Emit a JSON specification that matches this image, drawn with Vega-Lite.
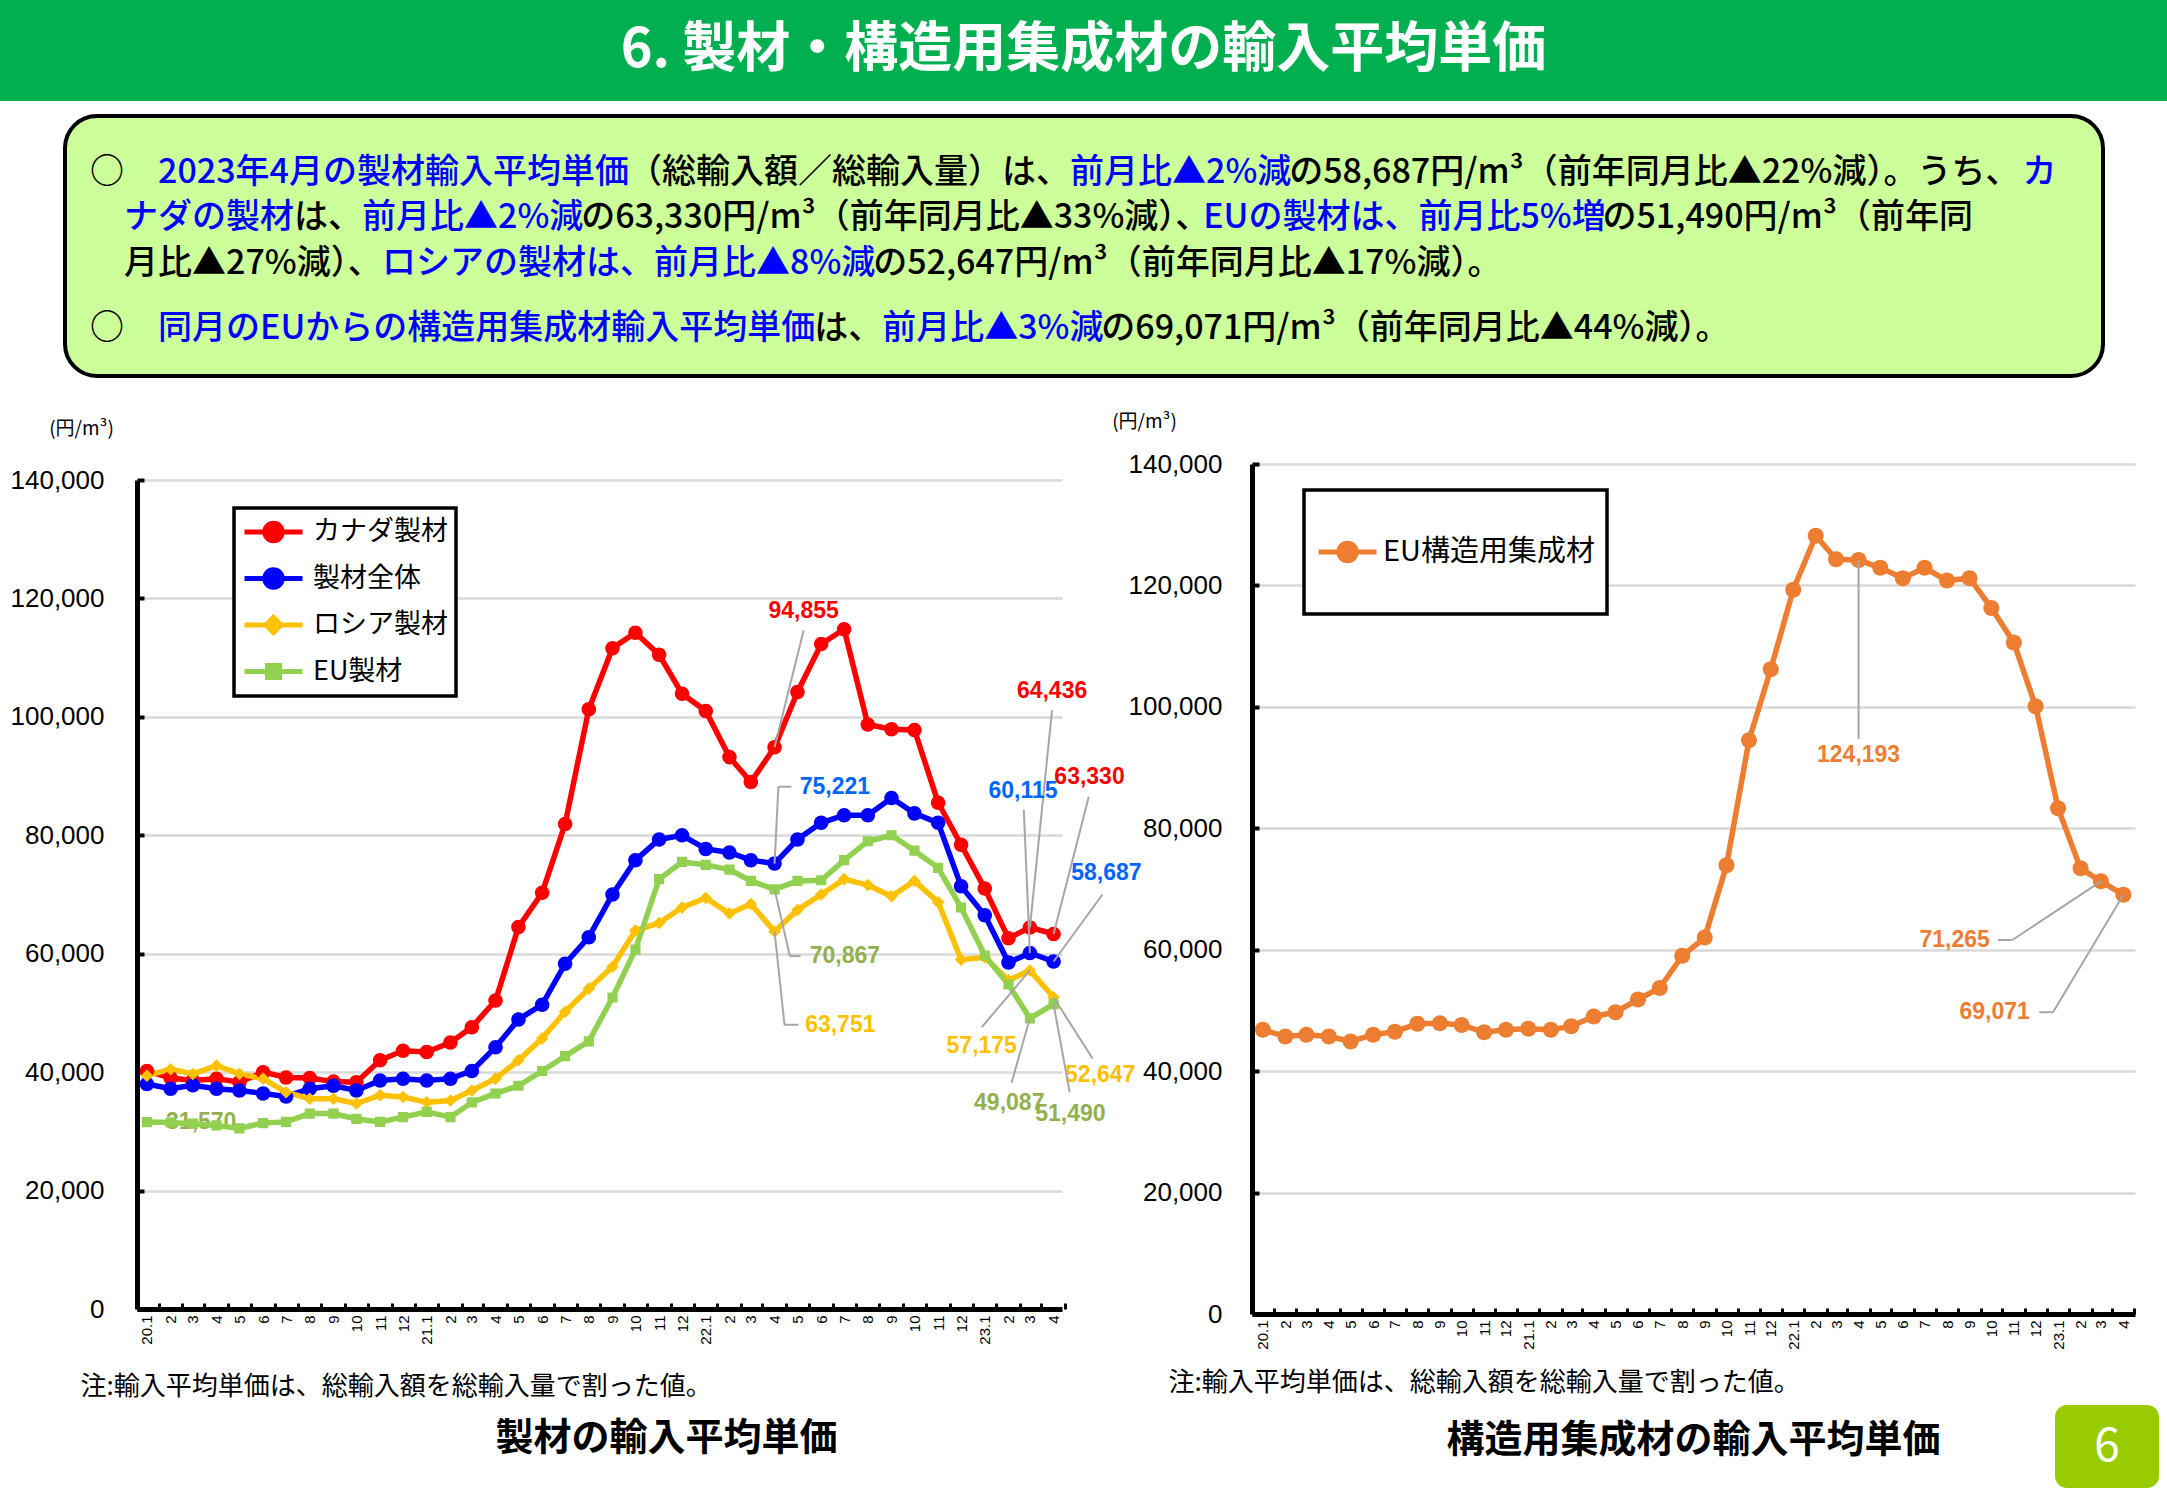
{
  "$schema": "https://vega.github.io/schema/vega-lite/v6.json",
  "padding": 0,
  "background": "white",
  "bounds": "flush",
  "spacing": 0,
  "resolve": {"scale": {"color": "independent", "shape": "independent"}, "legend": {"color": "independent", "shape": "independent"}},
  "config": {"view": {"stroke": null}, "font": "Noto Sans CJK JP"},
  "datasets": {
    "heading": [{"title": "6. 製材・構造用集成材の輸入平均単価"}],
    "pageno": [{"page": "6"}],
    "summary": [
      {"para": 1, "line": 1, "seg": 1, "tone": "plain", "text": "○　"},
      {"para": 1, "line": 1, "seg": 2, "tone": "emph", "text": "2023年4月の製材輸入平均単価"},
      {"para": 1, "line": 1, "seg": 3, "tone": "plain", "text": "（総輸入額／総輸入量）は、"},
      {"para": 1, "line": 1, "seg": 4, "tone": "emph", "text": "前月比▲2%減"},
      {"para": 1, "line": 1, "seg": 5, "tone": "plain", "text": "の58,687円/m³（前年同月比▲22%減）。うち、"},
      {"para": 1, "line": 1, "seg": 6, "tone": "emph", "text": "カ"},
      {"para": 1, "line": 2, "seg": 1, "tone": "emph", "text": "\u200b　ナダの製材"},
      {"para": 1, "line": 2, "seg": 2, "tone": "plain", "text": "は、"},
      {"para": 1, "line": 2, "seg": 3, "tone": "emph", "text": "前月比▲2%減"},
      {"para": 1, "line": 2, "seg": 4, "tone": "plain", "text": "の63,330円/m³（前年同月比▲33%減）、"},
      {"para": 1, "line": 2, "seg": 5, "tone": "emph", "text": "EUの製材は、前月比5%増"},
      {"para": 1, "line": 2, "seg": 6, "tone": "plain", "text": "の51,490円/m³（前年同"},
      {"para": 1, "line": 3, "seg": 1, "tone": "plain", "text": "\u200b　月比▲27%減）、"},
      {"para": 1, "line": 3, "seg": 2, "tone": "emph", "text": "ロシアの製材は、前月比▲8%減"},
      {"para": 1, "line": 3, "seg": 3, "tone": "plain", "text": "の52,647円/m³（前年同月比▲17%減）。"},
      {"para": 2, "line": 4, "seg": 1, "tone": "plain", "text": "○　"},
      {"para": 2, "line": 4, "seg": 2, "tone": "emph", "text": "同月のEUからの構造用集成材輸入平均単価"},
      {"para": 2, "line": 4, "seg": 3, "tone": "plain", "text": "は、"},
      {"para": 2, "line": 4, "seg": 4, "tone": "emph", "text": "前月比▲3%減"},
      {"para": 2, "line": 4, "seg": 5, "tone": "plain", "text": "の69,071円/m³（前年同月比▲44%減）。"}
    ],
    "lumber": [
      {"month":"2020-01","series":"カナダ製材","value":40200},{"month":"2020-02","series":"カナダ製材","value":39000},{"month":"2020-03","series":"カナダ製材","value":38600},{"month":"2020-04","series":"カナダ製材","value":38900},{"month":"2020-05","series":"カナダ製材","value":38300},{"month":"2020-06","series":"カナダ製材","value":40000},{"month":"2020-07","series":"カナダ製材","value":39100},{"month":"2020-08","series":"カナダ製材","value":39000},{"month":"2020-09","series":"カナダ製材","value":38400},{"month":"2020-10","series":"カナダ製材","value":38300},{"month":"2020-11","series":"カナダ製材","value":42000},{"month":"2020-12","series":"カナダ製材","value":43600},
      {"month":"2021-01","series":"カナダ製材","value":43400},{"month":"2021-02","series":"カナダ製材","value":45000},{"month":"2021-03","series":"カナダ製材","value":47600},{"month":"2021-04","series":"カナダ製材","value":52100},{"month":"2021-05","series":"カナダ製材","value":64500},{"month":"2021-06","series":"カナダ製材","value":70300},{"month":"2021-07","series":"カナダ製材","value":81900},{"month":"2021-08","series":"カナダ製材","value":101300},{"month":"2021-09","series":"カナダ製材","value":111600},{"month":"2021-10","series":"カナダ製材","value":114200},{"month":"2021-11","series":"カナダ製材","value":110500},{"month":"2021-12","series":"カナダ製材","value":103900},
      {"month":"2022-01","series":"カナダ製材","value":101000},{"month":"2022-02","series":"カナダ製材","value":93200},{"month":"2022-03","series":"カナダ製材","value":89000},{"month":"2022-04","series":"カナダ製材","value":94855},{"month":"2022-05","series":"カナダ製材","value":104200},{"month":"2022-06","series":"カナダ製材","value":112300},{"month":"2022-07","series":"カナダ製材","value":114800},{"month":"2022-08","series":"カナダ製材","value":98700},{"month":"2022-09","series":"カナダ製材","value":97900},{"month":"2022-10","series":"カナダ製材","value":97800},{"month":"2022-11","series":"カナダ製材","value":85500},{"month":"2022-12","series":"カナダ製材","value":78400},
      {"month":"2023-01","series":"カナダ製材","value":71000},{"month":"2023-02","series":"カナダ製材","value":62600},{"month":"2023-03","series":"カナダ製材","value":64436},{"month":"2023-04","series":"カナダ製材","value":63330},
      {"month":"2020-01","series":"製材全体","value":38000},{"month":"2020-02","series":"製材全体","value":37200},{"month":"2020-03","series":"製材全体","value":37800},{"month":"2020-04","series":"製材全体","value":37200},{"month":"2020-05","series":"製材全体","value":36900},{"month":"2020-06","series":"製材全体","value":36400},{"month":"2020-07","series":"製材全体","value":35900},{"month":"2020-08","series":"製材全体","value":37200},{"month":"2020-09","series":"製材全体","value":37700},{"month":"2020-10","series":"製材全体","value":36900},{"month":"2020-11","series":"製材全体","value":38600},{"month":"2020-12","series":"製材全体","value":38900},
      {"month":"2021-01","series":"製材全体","value":38600},{"month":"2021-02","series":"製材全体","value":38900},{"month":"2021-03","series":"製材全体","value":40200},{"month":"2021-04","series":"製材全体","value":44200},{"month":"2021-05","series":"製材全体","value":48900},{"month":"2021-06","series":"製材全体","value":51400},{"month":"2021-07","series":"製材全体","value":58300},{"month":"2021-08","series":"製材全体","value":62800},{"month":"2021-09","series":"製材全体","value":70000},{"month":"2021-10","series":"製材全体","value":75800},{"month":"2021-11","series":"製材全体","value":79300},{"month":"2021-12","series":"製材全体","value":80000},
      {"month":"2022-01","series":"製材全体","value":77700},{"month":"2022-02","series":"製材全体","value":77100},{"month":"2022-03","series":"製材全体","value":75800},{"month":"2022-04","series":"製材全体","value":75221},{"month":"2022-05","series":"製材全体","value":79300},{"month":"2022-06","series":"製材全体","value":82100},{"month":"2022-07","series":"製材全体","value":83400},{"month":"2022-08","series":"製材全体","value":83400},{"month":"2022-09","series":"製材全体","value":86300},{"month":"2022-10","series":"製材全体","value":83700},{"month":"2022-11","series":"製材全体","value":82100},{"month":"2022-12","series":"製材全体","value":71400},
      {"month":"2023-01","series":"製材全体","value":66500},{"month":"2023-02","series":"製材全体","value":58500},{"month":"2023-03","series":"製材全体","value":60115},{"month":"2023-04","series":"製材全体","value":58687},
      {"month":"2020-01","series":"ロシア製材","value":39400},{"month":"2020-02","series":"ロシア製材","value":40500},{"month":"2020-03","series":"ロシア製材","value":39700},{"month":"2020-04","series":"ロシア製材","value":41100},{"month":"2020-05","series":"ロシア製材","value":39700},{"month":"2020-06","series":"ロシア製材","value":38900},{"month":"2020-07","series":"ロシア製材","value":36600},{"month":"2020-08","series":"ロシア製材","value":35500},{"month":"2020-09","series":"ロシア製材","value":35500},{"month":"2020-10","series":"ロシア製材","value":34700},{"month":"2020-11","series":"ロシア製材","value":36100},{"month":"2020-12","series":"ロシア製材","value":35800},
      {"month":"2021-01","series":"ロシア製材","value":34900},{"month":"2021-02","series":"ロシア製材","value":35200},{"month":"2021-03","series":"ロシア製材","value":36900},{"month":"2021-04","series":"ロシア製材","value":38900},{"month":"2021-05","series":"ロシア製材","value":42000},{"month":"2021-06","series":"ロシア製材","value":45700},{"month":"2021-07","series":"ロシア製材","value":50200},{"month":"2021-08","series":"ロシア製材","value":54100},{"month":"2021-09","series":"ロシア製材","value":57800},{"month":"2021-10","series":"ロシア製材","value":63900},{"month":"2021-11","series":"ロシア製材","value":65200},{"month":"2021-12","series":"ロシア製材","value":67800},
      {"month":"2022-01","series":"ロシア製材","value":69400},{"month":"2022-02","series":"ロシア製材","value":66800},{"month":"2022-03","series":"ロシア製材","value":68400},{"month":"2022-04","series":"ロシア製材","value":63751},{"month":"2022-05","series":"ロシア製材","value":67400},{"month":"2022-06","series":"ロシア製材","value":70000},{"month":"2022-07","series":"ロシア製材","value":72600},{"month":"2022-08","series":"ロシア製材","value":71600},{"month":"2022-09","series":"ロシア製材","value":69700},{"month":"2022-10","series":"ロシア製材","value":72300},{"month":"2022-11","series":"ロシア製材","value":68700},{"month":"2022-12","series":"ロシア製材","value":59000},
      {"month":"2023-01","series":"ロシア製材","value":59400},{"month":"2023-02","series":"ロシア製材","value":55500},{"month":"2023-03","series":"ロシア製材","value":57175},{"month":"2023-04","series":"ロシア製材","value":52647},
      {"month":"2020-01","series":"EU製材","value":31570},{"month":"2020-02","series":"EU製材","value":31500},{"month":"2020-03","series":"EU製材","value":31300},{"month":"2020-04","series":"EU製材","value":31000},{"month":"2020-05","series":"EU製材","value":30500},{"month":"2020-06","series":"EU製材","value":31400},{"month":"2020-07","series":"EU製材","value":31600},{"month":"2020-08","series":"EU製材","value":33000},{"month":"2020-09","series":"EU製材","value":33000},{"month":"2020-10","series":"EU製材","value":32100},{"month":"2020-11","series":"EU製材","value":31600},{"month":"2020-12","series":"EU製材","value":32400},
      {"month":"2021-01","series":"EU製材","value":33300},{"month":"2021-02","series":"EU製材","value":32400},{"month":"2021-03","series":"EU製材","value":34900},{"month":"2021-04","series":"EU製材","value":36400},{"month":"2021-05","series":"EU製材","value":37700},{"month":"2021-06","series":"EU製材","value":40200},{"month":"2021-07","series":"EU製材","value":42700},{"month":"2021-08","series":"EU製材","value":45200},{"month":"2021-09","series":"EU製材","value":52600},{"month":"2021-10","series":"EU製材","value":60700},{"month":"2021-11","series":"EU製材","value":72600},{"month":"2021-12","series":"EU製材","value":75500},
      {"month":"2022-01","series":"EU製材","value":75000},{"month":"2022-02","series":"EU製材","value":74200},{"month":"2022-03","series":"EU製材","value":72300},{"month":"2022-04","series":"EU製材","value":70867},{"month":"2022-05","series":"EU製材","value":72300},{"month":"2022-06","series":"EU製材","value":72400},{"month":"2022-07","series":"EU製材","value":75800},{"month":"2022-08","series":"EU製材","value":79000},{"month":"2022-09","series":"EU製材","value":80000},{"month":"2022-10","series":"EU製材","value":77400},{"month":"2022-11","series":"EU製材","value":74500},{"month":"2022-12","series":"EU製材","value":67800},
      {"month":"2023-01","series":"EU製材","value":59700},{"month":"2023-02","series":"EU製材","value":54800},{"month":"2023-03","series":"EU製材","value":49087},{"month":"2023-04","series":"EU製材","value":51490}
    ],
    "glulam": [
      {"month":"2020-01","series":"EU構造用集成材","value":46800},{"month":"2020-02","series":"EU構造用集成材","value":45700},{"month":"2020-03","series":"EU構造用集成材","value":46000},{"month":"2020-04","series":"EU構造用集成材","value":45700},{"month":"2020-05","series":"EU構造用集成材","value":44900},{"month":"2020-06","series":"EU構造用集成材","value":46000},{"month":"2020-07","series":"EU構造用集成材","value":46500},{"month":"2020-08","series":"EU構造用集成材","value":47800},{"month":"2020-09","series":"EU構造用集成材","value":47900},{"month":"2020-10","series":"EU構造用集成材","value":47600},{"month":"2020-11","series":"EU構造用集成材","value":46400},{"month":"2020-12","series":"EU構造用集成材","value":46800},
      {"month":"2021-01","series":"EU構造用集成材","value":47000},{"month":"2021-02","series":"EU構造用集成材","value":46800},{"month":"2021-03","series":"EU構造用集成材","value":47400},{"month":"2021-04","series":"EU構造用集成材","value":49000},{"month":"2021-05","series":"EU構造用集成材","value":49700},{"month":"2021-06","series":"EU構造用集成材","value":51800},{"month":"2021-07","series":"EU構造用集成材","value":53700},{"month":"2021-08","series":"EU構造用集成材","value":59000},{"month":"2021-09","series":"EU構造用集成材","value":62000},{"month":"2021-10","series":"EU構造用集成材","value":73900},{"month":"2021-11","series":"EU構造用集成材","value":94500},{"month":"2021-12","series":"EU構造用集成材","value":106200},
      {"month":"2022-01","series":"EU構造用集成材","value":119300},{"month":"2022-02","series":"EU構造用集成材","value":128200},{"month":"2022-03","series":"EU構造用集成材","value":124300},{"month":"2022-04","series":"EU構造用集成材","value":124193},{"month":"2022-05","series":"EU構造用集成材","value":122900},{"month":"2022-06","series":"EU構造用集成材","value":121200},{"month":"2022-07","series":"EU構造用集成材","value":122900},{"month":"2022-08","series":"EU構造用集成材","value":120800},{"month":"2022-09","series":"EU構造用集成材","value":121200},{"month":"2022-10","series":"EU構造用集成材","value":116300},{"month":"2022-11","series":"EU構造用集成材","value":110600},{"month":"2022-12","series":"EU構造用集成材","value":100100},
      {"month":"2023-01","series":"EU構造用集成材","value":83300},{"month":"2023-02","series":"EU構造用集成材","value":73400},{"month":"2023-03","series":"EU構造用集成材","value":71265},{"month":"2023-04","series":"EU構造用集成材","value":69071}
    ]
  },
  "vconcat": [
    {
      "width": 2167, "height": 101,
      "view": {"fill": "#00b050", "stroke": null},
      "data": {"name": "heading"},
      "mark": {"type": "text", "color": "white", "fontSize": 54, "fontWeight": "bold", "font": "Noto Sans CJK JP"},
      "encoding": {"text": {"field": "title"}}
    },
    {"width": 1, "height": 15, "data": {"values": [{}]}, "mark": {"type": "point", "size": 0, "opacity": 0}},
    {
      "bounds": "flush", "spacing": 20,
      "hconcat": [
        {"width": 45, "height": 1, "data": {"values": [{}]}, "mark": {"type": "point", "size": 0, "opacity": 0}},
        {
          "width": 2038, "height": 260,
          "view": {"fill": "#ccff99", "stroke": "#000000", "strokeWidth": 4, "cornerRadius": 32},
          "data": {"name": "summary"},
          "transform": [
            {"calculate": "length(datum.text) - 0.435*length(replace(datum.text, regexp('[^0-9]', 'g'), '')) - 0.73*length(replace(datum.text, regexp('[^,]', 'g'), '')) - 0.12*length(replace(datum.text, regexp('[^%]', 'g'), '')) - 0.63*length(replace(datum.text, regexp('[^/]', 'g'), '')) - 0.16*length(replace(datum.text, regexp('[^m]', 'g'), '')) - 0.6*length(replace(datum.text, regexp('[^³]', 'g'), '')) - 0.4*length(replace(datum.text, regexp('[^E]', 'g'), '')) - 0.3*length(replace(datum.text, regexp('[^U]', 'g'), '')) - length(replace(datum.text, regexp('[^\u200b]', 'g'), '')) - 0.42*(length(split(datum.text, '）、')) - 1) - 0.15*(length(split(datum.text, '）。')) - 1)", "as": "w"},
            {"window": [{"op": "sum", "field": "w", "as": "cum"}], "groupby": ["line"], "sort": [{"field": "seg", "order": "ascending"}], "frame": [null, 0]},
            {"calculate": "datum.cum - datum.w", "as": "start"}
          ],
          "encoding": {
            "x": {"field": "start", "type": "quantitative", "scale": {"domain": [0, 59.941]}, "axis": null},
            "y": {"field": "line", "type": "quantitative", "scale": {"domain": [-0.2527, 5.4615], "reverse": true}, "axis": null},
            "text": {"field": "text"},
            "color": {"condition": {"test": "datum.tone === 'emph'", "value": "#0000ff"}, "value": "#000000"}
          },
          "layer": [
            {"transform": [{"filter": "datum.para === 1"}], "mark": {"type": "text", "align": "left", "baseline": "middle", "dx": 25, "fontSize": 34, "font": "Noto Sans CJK JP", "fontWeight": 500}},
            {"transform": [{"filter": "datum.para === 2"}], "mark": {"type": "text", "align": "left", "baseline": "middle", "dx": 25, "dy": 19.5, "fontSize": 34, "font": "Noto Sans CJK JP", "fontWeight": 500}}
          ]
        }
      ]
    },
    {"width": 1, "height": 348, "data": {"values": [{}]}, "mark": {"type": "point", "size": 0, "opacity": 0}},
    {
      "bounds": "flush", "spacing": 20,
      "resolve": {"scale": {"color": "independent", "shape": "independent"}, "legend": {"color": "independent", "shape": "independent"}},
      "hconcat": [
        {"width": 1232, "height": 1, "data": {"values": [{}]}, "mark": {"type": "point", "size": 0, "opacity": 0}},
        {
          "width": 883, "height": 850,
          "data": {"name": "glulam"},
          "title": {"text": "構造用集成材の輸入平均単価", "orient": "bottom", "frame": "group", "anchor": "middle", "offset": 27, "fontSize": 38, "fontWeight": "bold", "font": "Noto Sans CJK JP", "color": "black"},
          "encoding": {
            "x": {"field": "month", "type": "temporal",
              "scale": {"type": "utc", "domain": [{"year": 2019, "month": 12, "date": 17, "utc": true}, {"year": 2023, "month": 4, "date": 17, "utc": true}]},
              "axis": {"title": "注:輸入平均単価は、総輸入額を総輸入量で割った値。", "titleX": -84, "titleY": 68, "titleAlign": "left", "titleBaseline": "middle", "titleAngle": 0, "titleFont": "Noto Sans CJK JP", "titleFontSize": 26, "titleFontWeight": "normal", "titleColor": "black",
                "tickCount": {"interval": "month", "step": 1},
                "labelExpr": "utcFormat(datum.value, '%m') === '01' ? utcFormat(datum.value, '%y') + '.1' : utcFormat(datum.value, '%-m')",
                "labelAngle": 270, "labelAlign": "right", "labelBaseline": "middle", "labelFont": "Liberation Sans", "labelFontSize": 15, "labelColor": "black", "labelPadding": 12, "labelOverlap": false, "labelFlush": false,
                "tickSize": -6, "tickWidth": 3, "tickColor": "black", "tickOffset": 11, "labelOffset": -11,
                "domainColor": "black", "domainWidth": 5, "grid": false}},
            "y": {"field": "value", "type": "quantitative", "scale": {"domain": [0, 140000]},
              "axis": {"title": "(円/m³)", "titleAngle": 0, "titleX": -108, "titleY": -43, "titleAlign": "center", "titleBaseline": "middle", "titleFont": "Noto Sans CJK JP", "titleFontSize": 19, "titleFontWeight": "normal", "titleColor": "black",
                "values": [0, 20000, 40000, 60000, 80000, 100000, 120000, 140000], "format": ",.0f",
                "labelFont": "Liberation Sans", "labelFontSize": 26, "labelColor": "black", "labelPadding": 37,
                "domainColor": "black", "domainWidth": 5, "tickColor": "black", "tickWidth": 4, "tickSize": -7,
                "grid": true, "gridColor": "#d9d9d9", "gridWidth": 2.5}}
          },
          "layer": [
            {"mark": {"type": "line", "strokeWidth": 5.5, "color": "#ed7d31"}},
            {"mark": {"type": "point", "filled": true, "opacity": 1, "size": 2844, "strokeWidth": 0},
             "encoding": {
               "color": {"field": "series", "type": "nominal", "scale": {"domain": ["EU構造用集成材"], "range": ["#ed7d31"]},
                 "legend": {"title": null, "orient": "none", "legendX": 52, "legendY": 26, "fillColor": "white", "strokeColor": "black", "padding": 12, "labelFont": "Noto Sans CJK JP", "labelFontSize": 29, "labelColor": "black", "labelOffset": 4, "labelLimit": 0, "symbolSize": 3364, "symbolOpacity": 1, "clipHeight": 100,
                   "encode": {"symbols": {"update": {"stroke": {"value": "#ed7d31"}, "strokeWidth": {"value": 5}}}, "legend": {"update": {"strokeWidth": {"value": 3.5}}}}}},
               "shape": {"field": "series", "type": "nominal", "scale": {"domain": ["EU構造用集成材"], "range": ["M-1,0H1M-0.3,0A0.3,0.3,0,1,1,0.3,0A0.3,0.3,0,1,1,-0.3,0Z"]},
                 "legend": {"title": null, "orient": "none", "legendX": 52, "legendY": 26, "fillColor": "white", "strokeColor": "black", "padding": 12, "labelFont": "Noto Sans CJK JP", "labelFontSize": 29, "labelColor": "black", "labelOffset": 4, "labelLimit": 0, "symbolSize": 3364, "symbolOpacity": 1, "clipHeight": 100,
                   "encode": {"symbols": {"update": {"stroke": {"value": "#ed7d31"}, "strokeWidth": {"value": 5}}}, "legend": {"update": {"strokeWidth": {"value": 3.5}}}}}}
             }},
            {"transform": [{"filter": "datum.value === 124193"}], "layer": [
              {"mark": {"type": "rule", "color": "#a6a6a6", "strokeWidth": 2}, "encoding": {"x2": {"datum": {"year": 2022, "month": 4, "date": 1, "utc": true}}, "y2": {"datum": 94700}}},
              {"mark": {"type": "text", "font": "Liberation Sans", "fontWeight": "bold", "fontSize": 23, "color": "#ed7d31", "align": "center", "baseline": "middle"},
               "encoding": {"x": {"datum": {"year": 2022, "month": 4, "date": 1, "utc": true}, "type": "temporal"}, "y": {"datum": 92100, "type": "quantitative"}, "text": {"field": "value", "type": "quantitative", "format": ","}}}
            ]},
            {"transform": [{"filter": "datum.value === 71265"}], "layer": [
              {"mark": {"type": "rule", "color": "#a6a6a6", "strokeWidth": 2}, "encoding": {"x2": {"datum": {"year": 2022, "month": 10, "date": 30, "utc": true}}, "y2": {"datum": 61600}}},
              {"mark": {"type": "rule", "color": "#a6a6a6", "strokeWidth": 2}, "encoding": {"x": {"datum": {"year": 2022, "month": 10, "date": 10, "utc": true}, "type": "temporal"}, "x2": {"datum": {"year": 2022, "month": 10, "date": 30, "utc": true}}, "y": {"datum": 61600, "type": "quantitative"}}},
              {"mark": {"type": "text", "font": "Liberation Sans", "fontWeight": "bold", "fontSize": 23, "color": "#ed7d31", "align": "right", "baseline": "middle"},
               "encoding": {"x": {"datum": {"year": 2022, "month": 9, "date": 29, "utc": true}, "type": "temporal"}, "y": {"datum": 61600, "type": "quantitative"}, "text": {"field": "value", "type": "quantitative", "format": ","}}}
            ]},
            {"transform": [{"filter": "datum.value === 69071"}], "layer": [
              {"mark": {"type": "rule", "color": "#a6a6a6", "strokeWidth": 2}, "encoding": {"x2": {"datum": {"year": 2022, "month": 12, "date": 25, "utc": true}}, "y2": {"datum": 49700}}},
              {"mark": {"type": "rule", "color": "#a6a6a6", "strokeWidth": 2}, "encoding": {"x": {"datum": {"year": 2022, "month": 12, "date": 6, "utc": true}, "type": "temporal"}, "x2": {"datum": {"year": 2022, "month": 12, "date": 25, "utc": true}}, "y": {"datum": 49700, "type": "quantitative"}}},
              {"mark": {"type": "text", "font": "Liberation Sans", "fontWeight": "bold", "fontSize": 23, "color": "#ed7d31", "align": "right", "baseline": "middle"},
               "encoding": {"x": {"datum": {"year": 2022, "month": 11, "date": 23, "utc": true}, "type": "temporal"}, "y": {"datum": 49700, "type": "quantitative"}, "text": {"field": "value", "type": "quantitative", "format": ","}}}
            ]}
          ]
        }
      ]
    },
    {"width": 1, "height": 16, "data": {"values": [{}]}, "mark": {"type": "point", "size": 0, "opacity": 0}},
    {
      "bounds": "flush", "spacing": 20,
      "resolve": {"scale": {"color": "independent", "shape": "independent"}, "legend": {"color": "independent", "shape": "independent"}},
      "hconcat": [
        {"width": 117, "height": 1, "data": {"values": [{}]}, "mark": {"type": "point", "size": 0, "opacity": 0}},
        {
          "width": 925, "height": 829,
          "data": {"name": "lumber"},
          "title": {"text": "製材の輸入平均単価", "orient": "bottom", "frame": "group", "anchor": "middle", "dx": 67, "offset": 21, "fontSize": 38, "fontWeight": "bold", "font": "Noto Sans CJK JP", "color": "black"},
          "encoding": {
            "x": {"field": "month", "type": "temporal",
              "scale": {"type": "utc", "domain": [{"year": 2019, "month": 12, "date": 19, "utc": true}, {"year": 2023, "month": 4, "date": 12, "utc": true}]},
              "axis": {"title": "注:輸入平均単価は、総輸入額を総輸入量で割った値。", "titleX": -57, "titleY": 77, "titleAlign": "left", "titleBaseline": "middle", "titleAngle": 0, "titleFont": "Noto Sans CJK JP", "titleFontSize": 26, "titleFontWeight": "normal", "titleColor": "black",
                "tickCount": {"interval": "month", "step": 1},
                "labelExpr": "utcFormat(datum.value, '%m') === '01' ? utcFormat(datum.value, '%y') + '.1' : utcFormat(datum.value, '%-m')",
                "labelAngle": 270, "labelAlign": "right", "labelBaseline": "middle", "labelFont": "Liberation Sans", "labelFontSize": 15, "labelColor": "black", "labelPadding": 12, "labelOverlap": false, "labelFlush": false,
                "tickSize": -6, "tickWidth": 3, "tickColor": "black", "tickOffset": 11.6, "labelOffset": -11.6,
                "domainColor": "black", "domainWidth": 5, "grid": false}},
            "y": {"field": "value", "type": "quantitative", "scale": {"domain": [0, 140000]},
              "axis": {"title": "(円/m³)", "titleAngle": 0, "titleX": -56, "titleY": -52, "titleAlign": "center", "titleBaseline": "middle", "titleFont": "Noto Sans CJK JP", "titleFontSize": 19, "titleFontWeight": "normal", "titleColor": "black",
                "values": [0, 20000, 40000, 60000, 80000, 100000, 120000, 140000], "format": ",.0f",
                "labelFont": "Liberation Sans", "labelFontSize": 26, "labelColor": "black", "labelPadding": 40,
                "domainColor": "black", "domainWidth": 5, "tickColor": "black", "tickWidth": 4, "tickSize": -7,
                "grid": true, "gridColor": "#d9d9d9", "gridWidth": 2.5}}
          },
          "layer": [
            {"transform": [{"filter": "datum.value === 31570"}],
             "mark": {"type": "text", "font": "Liberation Sans", "fontWeight": "bold", "fontSize": 23, "color": "#92b04e", "align": "center", "baseline": "middle"},
             "encoding": {"x": {"datum": {"year": 2020, "month": 3, "date": 12, "utc": true}, "type": "temporal"}, "y": {"datum": 31580, "type": "quantitative"}, "text": {"field": "value", "type": "quantitative", "format": ","}}},
            {"mark": {"type": "line", "strokeWidth": 5.5},
             "encoding": {"stroke": {"field": "series", "type": "nominal", "scale": {"domain": ["カナダ製材", "製材全体", "ロシア製材", "EU製材"], "range": ["#ff0000", "#0000ff", "#ffc000", "#92d050"]}, "legend": null}}},
            {"mark": {"type": "point", "filled": true, "opacity": 1, "size": 2340, "strokeWidth": 0},
             "encoding": {
               "color": {"field": "series", "type": "nominal", "scale": {"domain": ["カナダ製材", "製材全体", "ロシア製材", "EU製材"], "range": ["#ff0000", "#0000ff", "#ffc000", "#92d050"]},
                 "legend": {"title": null, "orient": "none", "legendX": 97, "legendY": 28, "fillColor": "white", "strokeColor": "black", "padding": 8, "labelFont": "Noto Sans CJK JP", "labelFontSize": 27, "labelColor": "black", "labelOffset": 8, "labelLimit": 0, "symbolSize": 3364, "symbolOpacity": 1, "clipHeight": 32, "rowPadding": 14.5,
                   "encode": {"symbols": {"update": {"stroke": {"signal": "datum.value === 'カナダ製材' ? '#ff0000' : datum.value === '製材全体' ? '#0000ff' : datum.value === 'ロシア製材' ? '#ffc000' : '#92d050'"}, "strokeWidth": {"value": 5}}}, "legend": {"update": {"strokeWidth": {"value": 3.5}}}}}},
               "shape": {"field": "series", "type": "nominal", "scale": {"domain": ["カナダ製材", "製材全体", "ロシア製材", "EU製材"], "range": ["M-1,0H1M-0.3,0A0.3,0.3,0,1,1,0.3,0A0.3,0.3,0,1,1,-0.3,0Z", "M-1,0H1M-0.3,0A0.3,0.3,0,1,1,0.3,0A0.3,0.3,0,1,1,-0.3,0Z", "M-1,0H1M0,-0.26L0.26,0L0,0.26L-0.26,0Z", "M-1,0H1M-0.21,-0.21H0.21V0.21H-0.21Z"]},
                 "legend": {"title": null, "orient": "none", "legendX": 97, "legendY": 28, "fillColor": "white", "strokeColor": "black", "padding": 8, "labelFont": "Noto Sans CJK JP", "labelFontSize": 27, "labelColor": "black", "labelOffset": 8, "labelLimit": 0, "symbolSize": 3364, "symbolOpacity": 1, "clipHeight": 32, "rowPadding": 14.5,
                   "encode": {"symbols": {"update": {"stroke": {"signal": "datum.value === 'カナダ製材' ? '#ff0000' : datum.value === '製材全体' ? '#0000ff' : datum.value === 'ロシア製材' ? '#ffc000' : '#92d050'"}, "strokeWidth": {"value": 5}}}, "legend": {"update": {"strokeWidth": {"value": 3.5}}}}}}
             }},
            {"transform": [{"filter": "datum.value === 94855"}], "layer": [
              {"mark": {"type": "rule", "color": "#a6a6a6", "strokeWidth": 2}, "encoding": {"x2": {"datum": {"year": 2022, "month": 5, "date": 9, "utc": true}}, "y2": {"datum": 114600}}},
              {"mark": {"type": "text", "font": "Liberation Sans", "fontWeight": "bold", "fontSize": 23, "color": "#ff0000", "align": "center", "baseline": "middle"},
               "encoding": {"x": {"datum": {"year": 2022, "month": 5, "date": 9, "utc": true}, "type": "temporal"}, "y": {"datum": 117900, "type": "quantitative"}, "text": {"field": "value", "type": "quantitative", "format": ","}}}
            ]},
            {"transform": [{"filter": "datum.value === 75221"}], "layer": [
              {"mark": {"type": "rule", "color": "#a6a6a6", "strokeWidth": 2}, "encoding": {"x2": {"datum": {"year": 2022, "month": 4, "date": 6, "utc": true}}, "y2": {"datum": 88200}}},
              {"mark": {"type": "rule", "color": "#a6a6a6", "strokeWidth": 2}, "encoding": {"x": {"datum": {"year": 2022, "month": 4, "date": 6, "utc": true}, "type": "temporal"}, "x2": {"datum": {"year": 2022, "month": 4, "date": 23, "utc": true}}, "y": {"datum": 88200, "type": "quantitative"}}},
              {"mark": {"type": "text", "font": "Liberation Sans", "fontWeight": "bold", "fontSize": 23, "color": "#0066ff", "align": "left", "baseline": "middle"},
               "encoding": {"x": {"datum": {"year": 2022, "month": 5, "date": 4, "utc": true}, "type": "temporal"}, "y": {"datum": 88200, "type": "quantitative"}, "text": {"field": "value", "type": "quantitative", "format": ","}}}
            ]},
            {"transform": [{"filter": "datum.value === 70867"}], "layer": [
              {"mark": {"type": "rule", "color": "#a6a6a6", "strokeWidth": 2}, "encoding": {"x2": {"datum": {"year": 2022, "month": 4, "date": 21, "utc": true}}, "y2": {"datum": 59600}}},
              {"mark": {"type": "rule", "color": "#a6a6a6", "strokeWidth": 2}, "encoding": {"x": {"datum": {"year": 2022, "month": 4, "date": 21, "utc": true}, "type": "temporal"}, "x2": {"datum": {"year": 2022, "month": 5, "date": 5, "utc": true}}, "y": {"datum": 59600, "type": "quantitative"}}},
              {"mark": {"type": "text", "font": "Liberation Sans", "fontWeight": "bold", "fontSize": 23, "color": "#92b04e", "align": "left", "baseline": "middle"},
               "encoding": {"x": {"datum": {"year": 2022, "month": 5, "date": 17, "utc": true}, "type": "temporal"}, "y": {"datum": 59600, "type": "quantitative"}, "text": {"field": "value", "type": "quantitative", "format": ","}}}
            ]},
            {"transform": [{"filter": "datum.value === 63751"}], "layer": [
              {"mark": {"type": "rule", "color": "#a6a6a6", "strokeWidth": 2}, "encoding": {"x2": {"datum": {"year": 2022, "month": 4, "date": 14, "utc": true}}, "y2": {"datum": 48000}}},
              {"mark": {"type": "rule", "color": "#a6a6a6", "strokeWidth": 2}, "encoding": {"x": {"datum": {"year": 2022, "month": 4, "date": 14, "utc": true}, "type": "temporal"}, "x2": {"datum": {"year": 2022, "month": 5, "date": 2, "utc": true}}, "y": {"datum": 48000, "type": "quantitative"}}},
              {"mark": {"type": "text", "font": "Liberation Sans", "fontWeight": "bold", "fontSize": 23, "color": "#ffc000", "align": "left", "baseline": "middle"},
               "encoding": {"x": {"datum": {"year": 2022, "month": 5, "date": 11, "utc": true}, "type": "temporal"}, "y": {"datum": 48000, "type": "quantitative"}, "text": {"field": "value", "type": "quantitative", "format": ","}}}
            ]},
            {"transform": [{"filter": "datum.value === 64436"}], "layer": [
              {"mark": {"type": "rule", "color": "#a6a6a6", "strokeWidth": 2}, "encoding": {"x2": {"datum": {"year": 2023, "month": 3, "date": 30, "utc": true}}, "y2": {"datum": 101100}}},
              {"mark": {"type": "text", "font": "Liberation Sans", "fontWeight": "bold", "fontSize": 23, "color": "#ff0000", "align": "center", "baseline": "middle"},
               "encoding": {"x": {"datum": {"year": 2023, "month": 3, "date": 30, "utc": true}, "type": "temporal"}, "y": {"datum": 104300, "type": "quantitative"}, "text": {"field": "value", "type": "quantitative", "format": ","}}}
            ]},
            {"transform": [{"filter": "datum.value === 63330"}], "layer": [
              {"mark": {"type": "rule", "color": "#a6a6a6", "strokeWidth": 2}, "encoding": {"x2": {"datum": {"year": 2023, "month": 5, "date": 17, "utc": true}}, "y2": {"datum": 86500}}},
              {"mark": {"type": "text", "font": "Liberation Sans", "fontWeight": "bold", "fontSize": 23, "color": "#ff0000", "align": "center", "baseline": "middle"},
               "encoding": {"x": {"datum": {"year": 2023, "month": 5, "date": 18, "utc": true}, "type": "temporal"}, "y": {"datum": 89900, "type": "quantitative"}, "text": {"field": "value", "type": "quantitative", "format": ","}}}
            ]},
            {"transform": [{"filter": "datum.value === 60115"}], "layer": [
              {"mark": {"type": "rule", "color": "#a6a6a6", "strokeWidth": 2}, "encoding": {"x2": {"datum": {"year": 2023, "month": 2, "date": 21, "utc": true}}, "y2": {"datum": 84300}}},
              {"mark": {"type": "text", "font": "Liberation Sans", "fontWeight": "bold", "fontSize": 23, "color": "#0066ff", "align": "center", "baseline": "middle"},
               "encoding": {"x": {"datum": {"year": 2023, "month": 2, "date": 20, "utc": true}, "type": "temporal"}, "y": {"datum": 87500, "type": "quantitative"}, "text": {"field": "value", "type": "quantitative", "format": ","}}}
            ]},
            {"transform": [{"filter": "datum.value === 58687"}], "layer": [
              {"mark": {"type": "rule", "color": "#a6a6a6", "strokeWidth": 2}, "encoding": {"x2": {"datum": {"year": 2023, "month": 6, "date": 4, "utc": true}}, "y2": {"datum": 70000}}},
              {"mark": {"type": "text", "font": "Liberation Sans", "fontWeight": "bold", "fontSize": 23, "color": "#0066ff", "align": "center", "baseline": "middle"},
               "encoding": {"x": {"datum": {"year": 2023, "month": 6, "date": 9, "utc": true}, "type": "temporal"}, "y": {"datum": 73600, "type": "quantitative"}, "text": {"field": "value", "type": "quantitative", "format": ","}}}
            ]},
            {"transform": [{"filter": "datum.value === 57175"}], "layer": [
              {"mark": {"type": "rule", "color": "#a6a6a6", "strokeWidth": 2}, "encoding": {"x2": {"datum": {"year": 2022, "month": 12, "date": 28, "utc": true}}, "y2": {"datum": 47600}}},
              {"mark": {"type": "text", "font": "Liberation Sans", "fontWeight": "bold", "fontSize": 23, "color": "#ffc000", "align": "center", "baseline": "middle"},
               "encoding": {"x": {"datum": {"year": 2022, "month": 12, "date": 28, "utc": true}, "type": "temporal"}, "y": {"datum": 44400, "type": "quantitative"}, "text": {"field": "value", "type": "quantitative", "format": ","}}}
            ]},
            {"transform": [{"filter": "datum.value === 52647"}], "layer": [
              {"mark": {"type": "rule", "color": "#a6a6a6", "strokeWidth": 2}, "encoding": {"x2": {"datum": {"year": 2023, "month": 5, "date": 22, "utc": true}}, "y2": {"datum": 42300}}},
              {"mark": {"type": "text", "font": "Liberation Sans", "fontWeight": "bold", "fontSize": 23, "color": "#ffc000", "align": "center", "baseline": "middle"},
               "encoding": {"x": {"datum": {"year": 2023, "month": 6, "date": 1, "utc": true}, "type": "temporal"}, "y": {"datum": 39500, "type": "quantitative"}, "text": {"field": "value", "type": "quantitative", "format": ","}}}
            ]},
            {"transform": [{"filter": "datum.value === 49087"}], "layer": [
              {"mark": {"type": "rule", "color": "#a6a6a6", "strokeWidth": 2}, "encoding": {"x2": {"datum": {"year": 2023, "month": 2, "date": 5, "utc": true}}, "y2": {"datum": 38200}}},
              {"mark": {"type": "text", "font": "Liberation Sans", "fontWeight": "bold", "fontSize": 23, "color": "#92b04e", "align": "center", "baseline": "middle"},
               "encoding": {"x": {"datum": {"year": 2023, "month": 2, "date": 2, "utc": true}, "type": "temporal"}, "y": {"datum": 34800, "type": "quantitative"}, "text": {"field": "value", "type": "quantitative", "format": ","}}}
            ]},
            {"transform": [{"filter": "datum.value === 51490"}], "layer": [
              {"mark": {"type": "rule", "color": "#a6a6a6", "strokeWidth": 2}, "encoding": {"x2": {"datum": {"year": 2023, "month": 4, "date": 22, "utc": true}}, "y2": {"datum": 36600}}},
              {"mark": {"type": "text", "font": "Liberation Sans", "fontWeight": "bold", "fontSize": 23, "color": "#92b04e", "align": "center", "baseline": "middle"},
               "encoding": {"x": {"datum": {"year": 2023, "month": 4, "date": 23, "utc": true}, "type": "temporal"}, "y": {"datum": 32900, "type": "quantitative"}, "text": {"field": "value", "type": "quantitative", "format": ","}}}
            ]}
          ]
        }
      ]
    },
    {"width": 1, "height": 925, "data": {"values": [{}]}, "mark": {"type": "point", "size": 0, "opacity": 0}},
    {
      "bounds": "flush", "spacing": 20,
      "hconcat": [
        {"width": 2035, "height": 1, "data": {"values": [{}]}, "mark": {"type": "point", "size": 0, "opacity": 0}},
        {
          "width": 104, "height": 83,
          "view": {"fill": "#99cc00", "stroke": null, "cornerRadius": 12},
          "data": {"name": "pageno"},
          "mark": {"type": "text", "color": "white", "fontSize": 46, "font": "Noto Sans CJK JP"},
          "encoding": {"text": {"field": "page"}}
        }
      ]
    }
  ]
}
